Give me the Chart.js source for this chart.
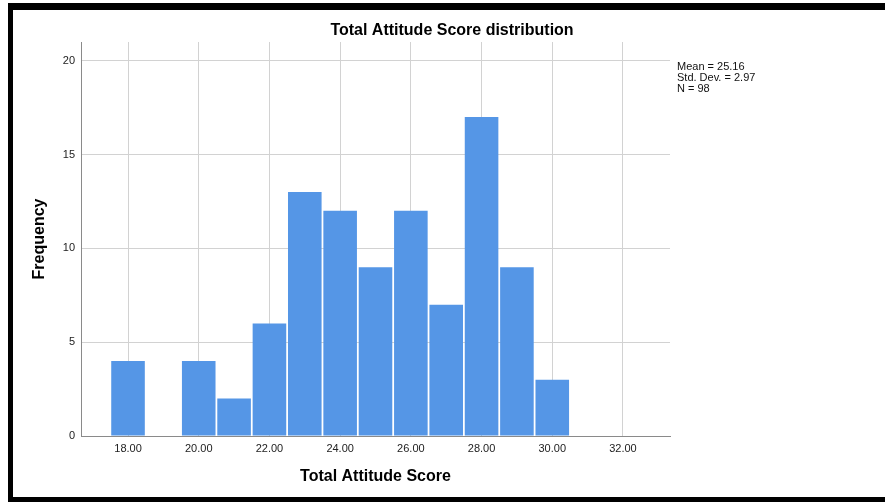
<!DOCTYPE html>
<html>
<head>
<meta charset="utf-8">
<script src="https://cdn.jsdelivr.net/npm/chart.js@4"></script>
<style>
  html, body { margin: 0; padding: 0; background: #fff; }
  #wrap { position: relative; width: 885px; height: 502px; overflow: hidden; }
  canvas { position: absolute; left: 0; top: 0; }
  .bt { position: absolute; left: 8px; top: 3px; width: 877px; height: 7px; background: #000; }
  .bl { position: absolute; left: 8px; top: 3px; width: 5px; height: 499px; background: #000; }
  .bb { position: absolute; left: 8px; top: 497px; width: 877px; height: 5px; background: #000; }
</style>
</head>
<body>
<div id="wrap">
  <canvas id="c" width="885" height="502"></canvas>
  <div class="bt"></div><div class="bl"></div><div class="bb"></div>
</div>
<script>
const chartTitle = "Total Attitude Score distribution";
const xTitle = "Total Attitude Score";
const yTitle = "Frequency";
const scores = [18, 19, 20, 21, 22, 23, 24, 25, 26, 27, 28, 29, 30];
const frequency = [4, 0, 4, 2, 6, 13, 12, 9, 12, 7, 17, 9, 3];
const xTickValues = [18, 20, 22, 24, 26, 28, 30, 32];
const yTickValues = [0, 5, 10, 15, 20];
const statsLines = ["Mean = 25.16", "Std. Dev. = 2.97", "N = 98"];

const FONT = "'Liberation Sans', Arial, sans-serif";

const textPlugin = {
  id: 'textPlugin',
  afterDraw(chart) {
    const ctx = chart.ctx;
    ctx.save();
    ctx.fillStyle = '#000';
    ctx.font = "bold 16px " + FONT;
    ctx.textAlign = 'center';
    ctx.textBaseline = 'middle';
    ctx.fillText(chartTitle, 452, 31);
    ctx.font = "11px " + FONT;
    ctx.textAlign = 'left';
    ctx.fillStyle = '#111';
    statsLines.forEach((s, i) => ctx.fillText(s, 677, 67 + i * 10.8));
    ctx.restore();
  }
};

new Chart(document.getElementById('c'), {
  type: 'bar',
  data: {
    datasets: [{
      data: scores.map((s, i) => ({ x: s, y: frequency[i] })),
      backgroundColor: 'rgb(85,150,230)',
      borderWidth: 0,
      barPercentage: 0.95,
      categoryPercentage: 1.0
    }]
  },
  options: {
    responsive: false,
    animation: false,
    layout: { padding: { top: 42, right: 215, bottom: 0, left: 0 } },
    plugins: { legend: { display: false }, title: { display: false }, tooltip: { enabled: false } },
    scales: {
      x: {
        type: 'linear',
        offset: false,
        min: 16.67,
        max: 33.33,
        afterBuildTicks(scale) { scale.ticks = xTickValues.map(v => ({ value: v })); },
        afterFit(scale) { scale.height = 66; },
        ticks: {
          padding: 6,
          color: '#222',
          font: { family: FONT, size: 11 },
          callback: v => Number(v).toFixed(2),
          maxRotation: 0,
          autoSkip: false
        },
        grid: { color: '#d2d2d2', lineWidth: 1, drawTicks: false, offset: false },
        border: { color: '#8a8a8a', width: 1 },
        title: {
          display: true,
          text: xTitle,
          color: '#000',
          font: { family: FONT, size: 16, weight: 'bold' },
          padding: { top: 0, bottom: 15.4 }
        }
      },
      y: {
        min: 0,
        max: 21,
        afterBuildTicks(scale) { scale.ticks = yTickValues.map(v => ({ value: v })); },
        afterFit(scale) { scale.width = 81; },
        ticks: {
          padding: 6,
          color: '#222',
          font: { family: FONT, size: 11 }
        },
        grid: { color: '#d2d2d2', lineWidth: 1, drawTicks: false },
        border: { color: '#8a8a8a', width: 1 },
        title: {
          display: true,
          text: yTitle,
          color: '#000',
          font: { family: FONT, size: 16, weight: 'bold' },
          padding: { top: 30.4, bottom: 0 }
        }
      }
    }
  },
  plugins: [textPlugin]
});
</script>
</body>
</html>
